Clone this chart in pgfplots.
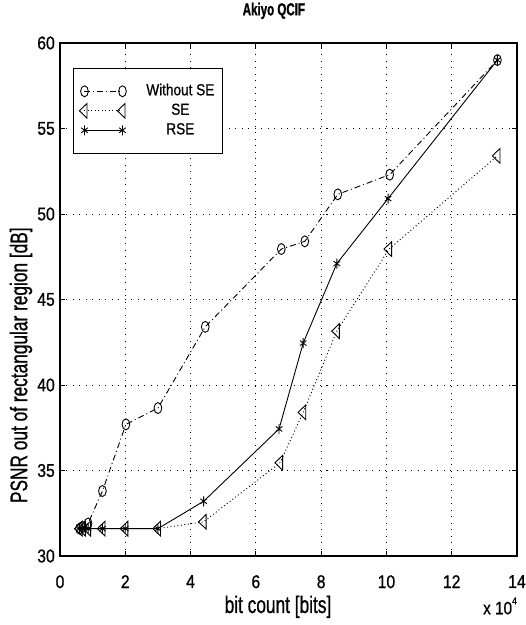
\documentclass[border=0pt]{standalone}
\usepackage{fontspec}
\setmainfont{Liberation Sans}[FakeStretch=0.85, FakeBold=0.8]
\newfontfamily\condfont{Liberation Sans}[FakeStretch=0.72, FakeBold=0.8]
\newfontfamily\titlefont{Liberation Sans}[FakeStretch=0.66, FakeBold=1]
\usepackage{pgfplots}
\pgfplotsset{compat=1.18}
\begin{document}
\begin{tikzpicture}
\useasboundingbox (-60pt,-69pt) rectangle (466pt,556pt);
\begin{axis}[
  at={(0,0)}, anchor=south west,
  scale only axis, width=457pt, height=513pt,
  xmin=0, xmax=14, ymin=30, ymax=60,
  xtick={0,2,...,14}, ytick={30,35,...,60},
  tick align=inside, xtick pos=both, ytick pos=both,
  major tick length=5pt,
  tick style={black, line width=0.8pt},
  /pgf/number format/assume math mode=true,
  ticklabel style={font=\fontsize{18.5}{18.5}\selectfont, inner sep=0pt},
  xticklabel style={yshift=-19pt},
  yticklabel style={xshift=-5pt},
  grid=major,
  major grid style={black, line width=0.8pt, dash pattern=on 1pt off 5.5pt},
  axis line style={black, line width=1.2pt},
  title={Akiyo QCIF},
  title style={at={(0.468,1.051)}, anchor=center, font=\titlefont\bfseries\fontsize{17.5}{17.5}\selectfont},
  xlabel={bit count [bits]},
  xlabel style={at={(0.477,-0.099)}, anchor=center, font=\condfont\fontsize{24}{24}\selectfont},
  ylabel={PSNR out of rectangular region [dB]},
  ylabel style={at={(-0.0853,0.372)}, anchor=center, font=\condfont\fontsize{24}{24}\selectfont},
  legend style={at={(0.0284,0.951)}, anchor=north west, draw=black, line width=0.8pt, fill=white,
    font=\fontsize{16}{16}\selectfont, cells={anchor=center},
    inner xsep=6pt, inner ysep=13pt, row sep=0pt,
    nodes={inner xsep=2pt, inner ysep=1.75pt, text height=12pt, text depth=4pt},
    /tikz/every odd column/.append style={column sep=18pt}},
  legend image code/.code={\draw[#1] plot coordinates {(0pt,0pt) (38pt,0pt)};},
]
\addplot[black, line width=0.9pt, dash pattern=on 6pt off 3pt on 1pt off 3pt,
  mark=o, mark size=5.5pt, mark options={solid, xscale=0.7}] coordinates {
  (0.60,31.6) (0.70,31.7) (0.86,31.9) (1.30,33.8) (2.02,37.7) (3.00,38.65)
  (4.45,43.4) (6.78,47.95) (7.50,48.4) (8.51,51.15) (10.10,52.3) (13.40,59.0)};
\addlegendentry{Without SE}
\addplot[black, line width=0.9pt, dash pattern=on 1pt off 2.5pt,
  mark=triangle, mark size=8.5pt, mark options={solid, rotate=90, yscale=0.6}] coordinates {
  (0.60,31.6) (0.70,31.6) (0.86,31.6) (1.30,31.6) (2.00,31.6) (3.00,31.6)
  (4.40,32.0) (6.74,35.45) (7.45,38.4) (8.48,43.15) (10.08,47.95) (13.40,53.4)};
\addlegendentry{SE}
\addplot[black, line width=0.9pt, solid,
  mark=asterisk, mark size=5pt, mark options={solid, xscale=0.75}] coordinates {
  (0.60,31.6) (0.70,31.6) (0.86,31.6) (1.30,31.6) (2.00,31.6) (3.00,31.6)
  (4.40,33.2) (6.71,37.43) (7.45,42.45) (8.48,47.1) (10.05,50.9) (13.40,59.0)};
\addlegendentry{RSE}
\end{axis}
\node[font=\fontsize{18}{18}\selectfont, inner sep=0pt] at (440pt,-50pt)
  {x 10\raisebox{0.55em}{\fontsize{10}{10}\selectfont 4}};
\end{tikzpicture}
\end{document}
